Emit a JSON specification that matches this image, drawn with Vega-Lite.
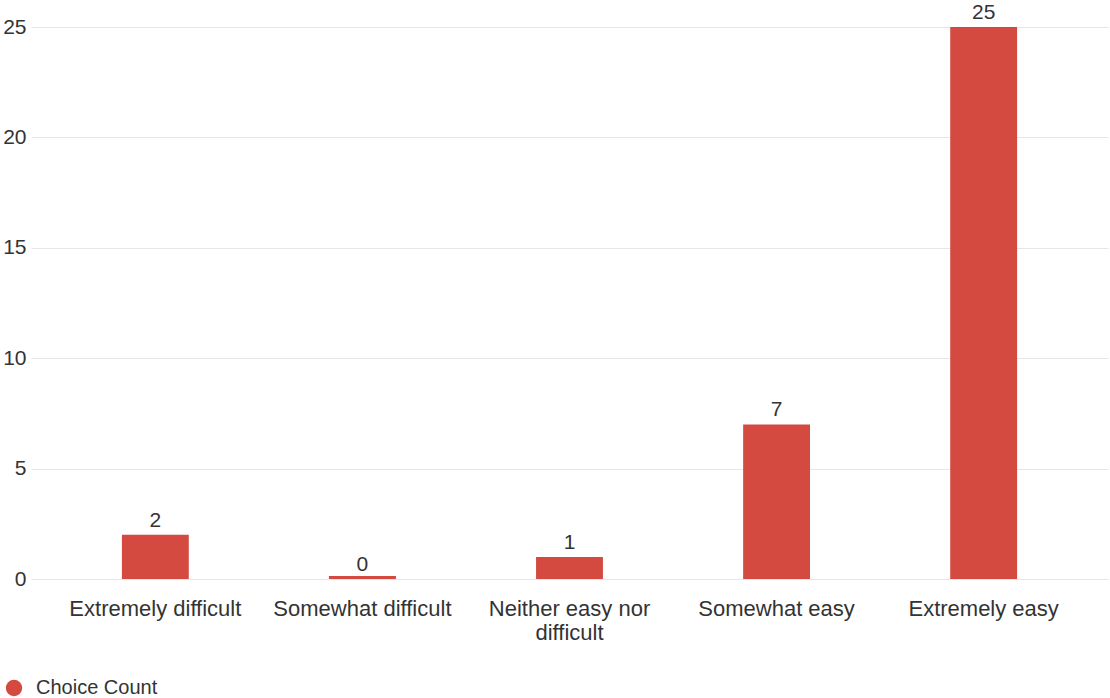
{
  "$schema": "https://vega.github.io/schema/vega-lite/v6.json",
  "width": 1077,
  "height": 552,
  "autosize": "none",
  "padding": {"left": 31, "top": 27, "right": 2, "bottom": 119},
  "background": "#ffffff",
  "config": {
    "view": {"stroke": null},
    "font": "Liberation Sans"
  },
  "data": {
    "values": [
      {"choice": "Extremely difficult", "count": 2, "series": "Choice Count"},
      {"choice": "Somewhat difficult", "count": 0, "series": "Choice Count"},
      {"choice": "Neither easy nor difficult", "count": 1, "series": "Choice Count"},
      {"choice": "Somewhat easy", "count": 7, "series": "Choice Count"},
      {"choice": "Extremely easy", "count": 25, "series": "Choice Count"}
    ]
  },
  "encoding": {
    "x": {
      "field": "choice",
      "type": "nominal",
      "sort": null,
      "scale": {"paddingInner": 0.677, "paddingOuter": 0.439},
      "axis": {
        "title": null,
        "domain": false,
        "ticks": false,
        "labelAngle": 0,
        "labelFontSize": 22,
        "labelColor": "#333333",
        "labelPadding": 19,
        "labelLineHeight": 24,
        "labelLimit": 300,
        "labelExpr": "datum.label == 'Neither easy nor difficult' ? ['Neither easy nor', 'difficult'] : datum.label"
      }
    },
    "y": {
      "field": "count",
      "type": "quantitative",
      "scale": {"domain": [0, 25], "nice": false},
      "axis": {
        "title": null,
        "domain": false,
        "ticks": false,
        "values": [0, 5, 10, 15, 20, 25],
        "labelFontSize": 21,
        "labelColor": "#333333",
        "labelPadding": 5,
        "gridColor": "#e6e6e6",
        "gridWidth": 1
      }
    }
  },
  "layer": [
    {
      "mark": {"type": "bar"},
      "encoding": {
        "color": {
          "field": "series",
          "type": "nominal",
          "scale": {"range": ["#d44a40"]},
          "legend": {
            "title": null,
            "orient": "none",
            "legendX": -27,
            "legendY": 651,
            "symbolType": "circle",
            "symbolSize": 270,
            "labelFontSize": 20,
            "labelColor": "#333333",
            "labelOffset": 12
          }
        }
      }
    },
    {
      "transform": [{"filter": "datum.count == 0"}],
      "mark": {"type": "tick", "thickness": 3, "size": 67, "yOffset": -1.5, "color": "#d44a40", "opacity": 1},
      "encoding": {}
    },
    {
      "mark": {"type": "text", "baseline": "alphabetic", "dy": -8, "fontSize": 21, "color": "#333333"},
      "encoding": {
        "text": {"field": "count", "type": "quantitative"}
      }
    }
  ]
}
